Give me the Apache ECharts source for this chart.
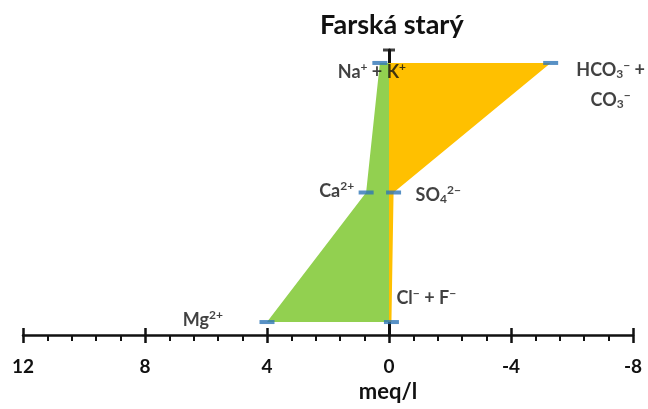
<!DOCTYPE html>
<html>
<head>
<meta charset="utf-8">
<script src="https://cdn.jsdelivr.net/npm/echarts@6/dist/echarts.min.js"></script>
<style>
  html, body { margin: 0; padding: 0; background: #fff; }
  #chart { width: 648px; height: 409px; }
</style>
</head>
<body>
<div id="chart"></div>
<script>
// Stiff diagram, rows from top to bottom
const cationNames = ['Na⁺ + K⁺', 'Ca²⁺', 'Mg²⁺']
const cationValues = [0.3, 0.75, 4.0]        // meq/l, drawn to the left
const anionNames = ['HCO₃⁻ +\nCO₃⁻', 'SO₄²⁻', 'Cl⁻ + F⁻']
const anionValues = [5.3, 0.15, 0.08]        // meq/l, drawn to the right
const xTicks = [12, 8, 4, 0, -4, -8]

const FONT = 'Lato, "DejaVu Sans", sans-serif'
const rowY = i => 2.1 - i   // row 0 on top

// turn unicode super/subscripts into rich text tokens
const SUP = { '⁺': '+', '⁻': '−', '²': '2' }
const SUB = { '₃': '3', '₄': '4' }
const toRich = s => s
    .replace(/[⁺⁻²]+/g, m => '{p|' + [...m].map(c => SUP[c]).join('') + '}')
    .replace(/[₃₄]+/g, m => '{b|' + [...m].map(c => SUB[c]).join('') + '}')

const mChart = echarts.init(document.getElementById('chart'))

// label placement (px) from each marker, only styling
const cationLabels = [
    { offset: [-8, 9], align: 'center' },
    { offset: [-12, -1], align: 'right' },
    { offset: [-44, -2], align: 'right' }
]
const anionLabels = [
    { offset: [60, 22], align: 'center' },
    { offset: [22, 3], align: 'left' },
    { offset: [5, -24], align: 'left' }
]

const markerData = []
cationValues.forEach((v, i) => {
    markerData.push({
        value: [v, rowY(i)],
        label: Object.assign({ formatter: toRich(cationNames[i]) }, cationLabels[i])
    })
})
anionValues.forEach((v, i) => {
    markerData.push({
        value: [-v, rowY(i)],
        label: Object.assign({ formatter: toRich(anionNames[i]) }, anionLabels[i])
    })
})

const polyColors = ['#92d050', '#ffc000']

const baseX = {
    type: 'value',
    inverse: true,
    min: xTicks[xTicks.length - 1],
    max: xTicks[0],
    interval: 4,
    splitLine: { show: false }
}

const option = {
    animation: false,
    backgroundColor: '#fff',
    title: {
        text: 'Farská starý',
        left: 315,
        top: 7,
        textStyle: { fontFamily: FONT, fontWeight: 'bold', fontSize: 27, color: '#111' }
    },
    grid: { left: 23, right: 15, top: 50, bottom: 74 },
    xAxis: [
        Object.assign({}, baseX, {
            position: 'bottom',
            name: 'meq/l',
            nameLocation: 'middle',
            nameGap: 44,
            nameTextStyle: {
                fontFamily: FONT, fontWeight: 'bold', fontSize: 22, color: '#111',
                padding: [0, 0, 0, 120]
            },
            axisLine: { show: true, lineStyle: { color: '#111', width: 2.5 } },
            axisTick: { show: true, length: 8, lineStyle: { color: '#111', width: 2.5 } },
            minorTick: { show: true, splitNumber: 5, length: 6, lineStyle: { color: '#111', width: 2 } },
            axisLabel: { margin: 22, fontFamily: FONT, fontWeight: 'bold', fontSize: 19, color: '#111' }
        }),
        Object.assign({}, baseX, {
            position: 'bottom',
            axisLine: { show: false },
            axisTick: { show: true, inside: true, length: 7, lineStyle: { color: '#111', width: 2.5 } },
            axisLabel: { show: false }
        })
    ],
    yAxis: {
        type: 'value',
        min: 0,
        max: 2.2,
        interval: 2.2,
        axisLine: { show: true, onZero: true, lineStyle: { color: '#111', width: 3 } },
        axisTick: { show: false },
        axisLabel: { show: false },
        splitLine: { show: false }
    },
    series: [
        {
            // cation / anion polygons
            type: 'custom',
            xAxisIndex: 0,
            z: 2,
            data: [[0, 0], [0, 0]],
            renderItem: (params, api) => {
                const vals = params.dataIndex === 0
                    ? cationValues
                    : anionValues.map(v => -v)
                const pts = [[0, rowY(0)]]
                vals.forEach((v, i) => pts.push([v, rowY(i)]))
                pts.push([0, rowY(vals.length - 1)])
                return {
                    type: 'polygon',
                    shape: { points: pts.map(p => api.coord(p)) },
                    style: { fill: polyColors[params.dataIndex] }
                }
            }
        },
        {
            // blue dashes at each value
            type: 'scatter',
            xAxisIndex: 0,
            z: 4,
            symbol: 'rect',
            symbolSize: [15, 4],
            itemStyle: { color: '#2e75b6' },
            label: {
                show: true,
                position: 'inside',
                verticalAlign: 'middle',
                fontFamily: FONT,
                fontWeight: 'bold',
                fontSize: 18,
                lineHeight: 30,
                color: '#111',
                rich: {
                    p: { fontFamily: FONT, fontWeight: 'bold', fontSize: 12, verticalAlign: 'top', padding: [4, 0, 0, 0], color: '#111' },
                    b: { fontFamily: FONT, fontWeight: 'bold', fontSize: 12, verticalAlign: 'bottom', padding: [0, 0, 5, 0], color: '#111' }
                }
            },
            data: markerData
        },
        {
            // cap on top of the zero line
            type: 'scatter',
            xAxisIndex: 0,
            z: 3,
            symbol: 'rect',
            symbolSize: [12, 3],
            itemStyle: { color: '#111' },
            data: [[0, 2.2]]
        }
    ]
}
mChart.setOption(option)
</script>
</body>
</html>
